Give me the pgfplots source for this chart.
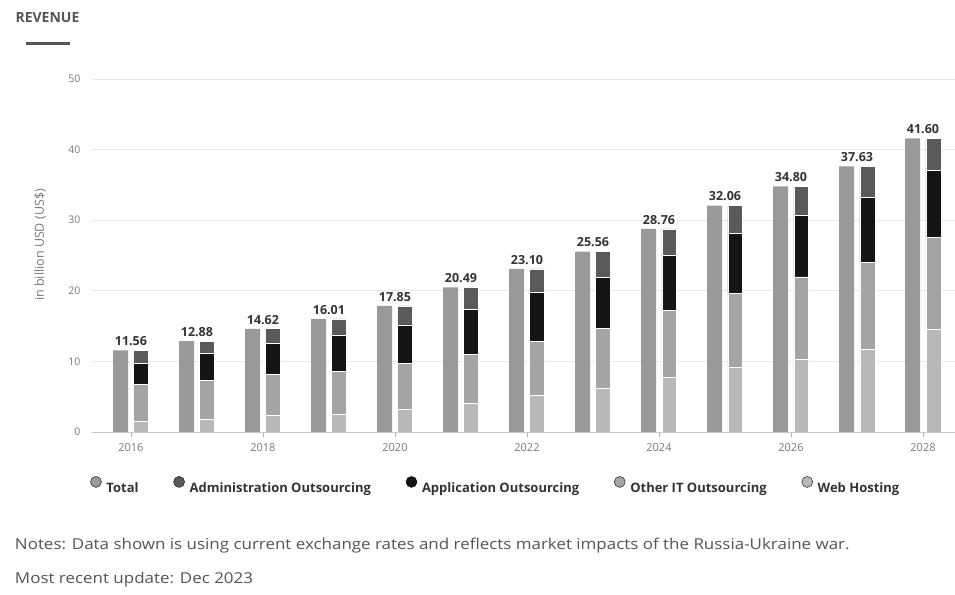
\documentclass[border=0pt]{standalone}
\usepackage{pgfplots}
\usepackage{pgfplotstable}
\pgfplotsset{compat=1.18}
\usepackage{fontspec}
\setmainfont{Open Sans}

\definecolor{totalc}{HTML}{9A9A9A}
\definecolor{adminc}{HTML}{5A5A5A}
\definecolor{appc}{HTML}{141414}
\definecolor{otherc}{HTML}{A4A4A4}
\definecolor{webc}{HTML}{B8B8B8}
\definecolor{textc}{HTML}{333333}
\definecolor{tickc}{HTML}{7A7A7A}
\definecolor{notec}{HTML}{555555}

% Revenue by segment, billion US$
\pgfplotstableread{
year total web other app admin
2016 11.56 1.48 5.24 3.03 1.81
2017 12.88 1.83 5.52 3.80 1.73
2018 14.62 2.30 5.87 4.40 2.05
2019 16.01 2.56 6.01 5.07 2.37
2020 17.85 3.15 6.54 5.48 2.68
2021 20.49 4.00 6.98 6.42 3.09
2022 23.10 5.21 7.58 6.98 3.33
2023 25.56 6.23 8.45 7.22 3.66
2024 28.76 7.67 9.52 7.86 3.71
2025 32.06 9.21 10.44 8.49 3.92
2026 34.80 10.29 11.68 8.66 4.17
2027 37.63 11.74 12.31 9.15 4.43
2028 41.60 14.49 13.02 9.60 4.49
}\revenue

\pgfplotsset{
  revaxis/.style={
    scale only axis, width=863pt, height=353pt,
    at={(92pt,162pt)}, anchor=south west,
    xmin=2015.41, xmax=2028.485, ymin=0, ymax=50,
  },
  segbar/.style={ybar stacked, bar width=0.227, bar shift=0.157,
    draw=white, line width=0.7pt, forget plot},
  dot/.style={only marks, mark=*, mark size=5.5pt, mark options={draw=none, fill=#1}},
}

\begin{document}
\begin{tikzpicture}[x=1pt,y=1pt]
\useasboundingbox (0,0) rectangle (955,594);
\fill[white] (0,0) rectangle (955,594);

% frame: grid, ticks, totals and their labels
\begin{axis}[revaxis,
  axis x line*=bottom, axis y line*=left,
  y axis line style={draw=none},
  x axis line style={draw=black!22, line width=0.8pt},
  ytick={0,10,...,50},
  ymajorgrids, grid style={draw=black!9, line width=0.7pt},
  ytick style={draw=none},
  xtick={2016,2018,...,2028},
  xtick style={draw=black!30, line width=0.6pt},
  tick align=outside, major tick length=5pt,
  /pgf/number format/assume math mode=true,
  xticklabel style={font=\fontsize{11}{11}\selectfont, text=tickc,
    /pgf/number format/1000 sep={}, yshift=-3pt},
  yticklabel style={font=\fontsize{10.5}{10.5}\selectfont, text=tickc, xshift=-3pt},
]
\addplot[ybar, bar width=0.227, bar shift=-0.157, fill=totalc, draw=none]
  table[x=year, y=total]{\revenue};
\addplot[ybar, bar width=0.227, bar shift=0.157, draw=none, fill=none,
  nodes near coords={\pgfmathprintnumber[fixed, fixed zerofill, precision=2,
    assume math mode=true]{\pgfplotspointmeta}},
  nodes near coords style={font=\bfseries\fontsize{12.5}{13}\selectfont,
    text=textc, yshift=1pt}]
  table[x=year, y=total]{\revenue};
\end{axis}

% segments stacked beside the totals
\begin{axis}[revaxis, hide axis, ybar stacked,
  legend columns=5,
  legend style={draw=none, fill=none, at={(0.468,-0.153)}, anchor=center,
    font=\bfseries\fontsize{13}{13}\selectfont, text=textc,
    /tikz/every odd column/.append style={column sep=3pt},
    /tikz/every even column/.append style={column sep=33pt}},
  legend cell align=left,
]
\addlegendimage{dot=totalc}
\addlegendentry{Total}
\addlegendimage{dot=adminc}
\addlegendentry{Administration Outsourcing}
\addlegendimage{dot=appc}
\addlegendentry{Application Outsourcing}
\addlegendimage{dot=otherc}
\addlegendentry{Other IT Outsourcing}
\addlegendimage{dot=webc}
\addlegendentry{Web Hosting}
\addplot[segbar, fill=webc] table[x=year, y=web]{\revenue};
\addplot[segbar, fill=otherc] table[x=year, y=other]{\revenue};
\addplot[segbar, fill=appc] table[x=year, y=app]{\revenue};
\addplot[segbar, fill=adminc] table[x=year, y=admin]{\revenue};
\end{axis}

% heading and notes
\node[anchor=west, font=\bfseries\fontsize{14}{15}\selectfont, text=notec]
  at (12,576) {REVENUE};
\draw[line width=3pt, notec] (26,550) -- (70,550);
\node[rotate=90, font=\fontsize{12.5}{13}\selectfont, text=tickc]
  at (40,349) {in billion USD (US\$)};
\node[anchor=west, xscale=1.13, font=\fontsize{15}{16}\selectfont, text=notec]
  at (11,48) {Notes: Data shown is using current exchange rates and reflects market impacts of the Russia-Ukraine war.};
\node[anchor=west, xscale=1.13, font=\fontsize{15}{16}\selectfont, text=notec]
  at (11,14) {Most recent update: Dec 2023};
\end{tikzpicture}
\end{document}
